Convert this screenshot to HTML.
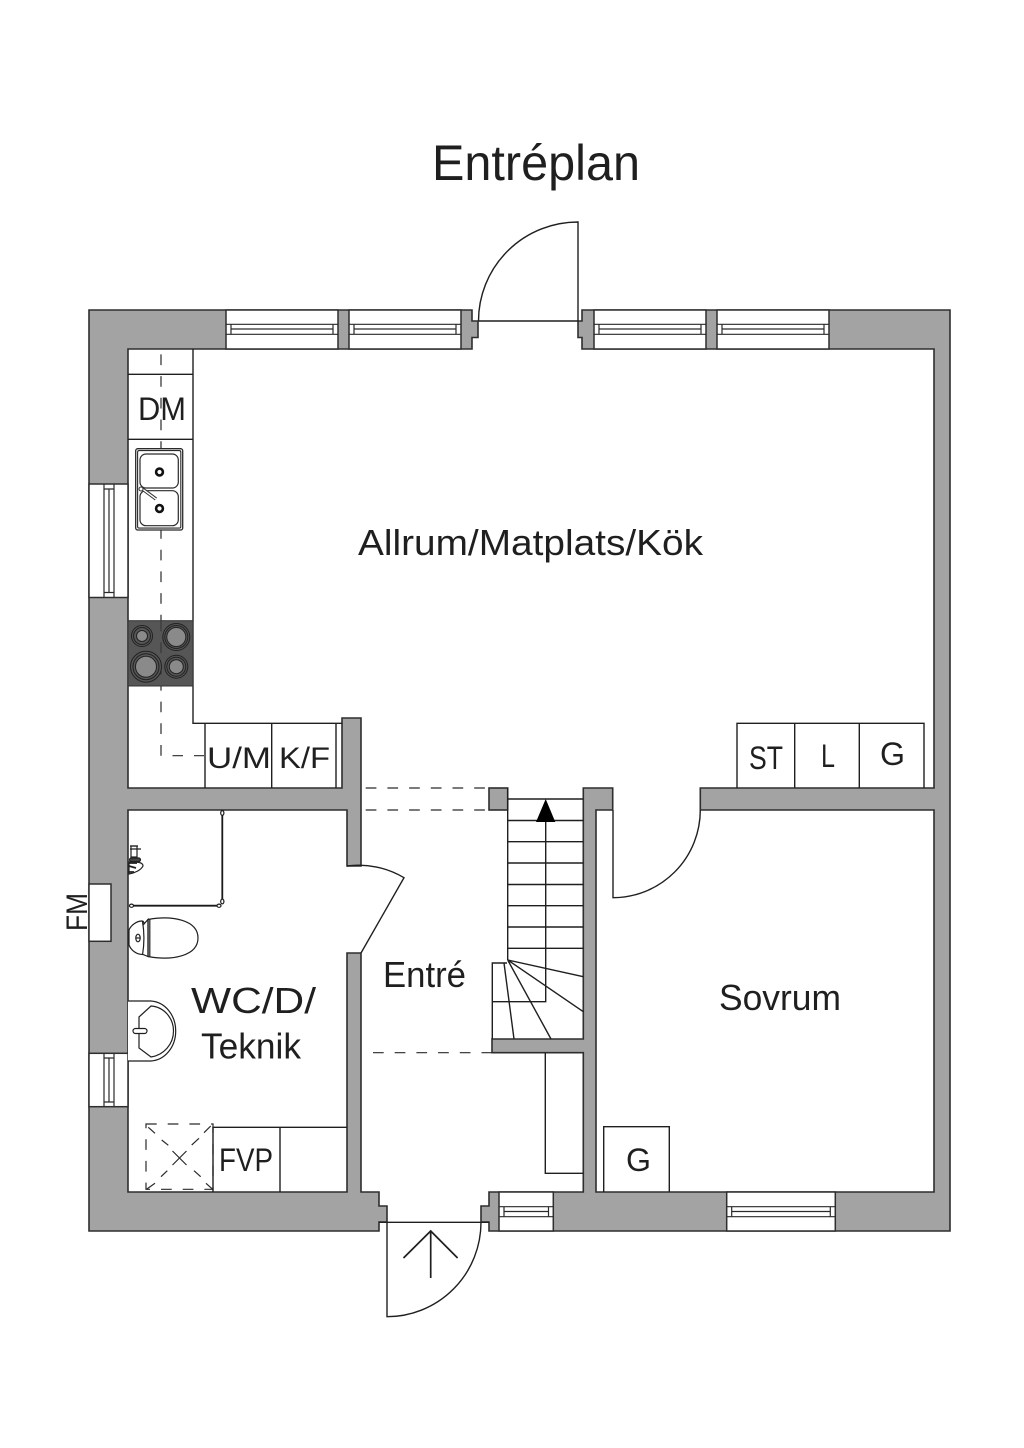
<!DOCTYPE html>
<html>
<head>
<meta charset="utf-8">
<title>Entréplan</title>
<style>
html,body{margin:0;padding:0;background:#fff;}
svg{display:block;}
text{font-family:"Liberation Sans",sans-serif;fill:#1f1f1f;}
.w{fill:#a3a3a3;stroke:#2e2e2e;stroke-width:1.6;}
.win{fill:#fff;stroke:#2e2e2e;stroke-width:1.5;}
.l{fill:none;stroke:#1f1f1f;stroke-width:1.4;}
.th{fill:none;stroke:#2a2a2a;stroke-width:1.2;}
.d{fill:none;stroke:#2a2a2a;stroke-width:1.2;stroke-dasharray:10.7 11;}
</style>
</head>
<body>
<svg width="1024" height="1448" viewBox="0 0 1024 1448" xmlns="http://www.w3.org/2000/svg">
<rect width="1024" height="1448" fill="#fff"/>

<!-- Left wall piece -->
<path class="w" d="M89,310H472V321H478V337.5H472V349H128V788H342V718H361V866H347V810H128V1192H347V953H361V1192H379V1206H387V1222H379V1231H89Z"/>
<!-- Right wall piece -->
<path class="w" d="M582,310H950V1231H489V1222H481V1206H489V1192H583.3V1052.7H492V1039H583.3V788H612.7V810H596V1192H934V810H700.3V788H934V349H582V337.5H578V321H582Z"/>
<!-- stub -->
<rect class="w" x="489" y="788" width="18.7" height="22"/>

<!-- Top windows -->
<g>
<rect class="win" x="226" y="310" width="112" height="39"/>
<rect class="win" x="349" y="310" width="112" height="39"/>
<rect class="win" x="594" y="310" width="112" height="39"/>
<rect class="win" x="717" y="310" width="112" height="39"/>
<path class="th" d="M226,324.3H338M226,334.3H338M231,324.3V334.3M333,324.3V334.3M231,329H333"/>
<path class="th" d="M349,324.3H461M349,334.3H461M354,324.3V334.3M456,324.3V334.3M354,329H456"/>
<path class="th" d="M594,324.3H706M594,334.3H706M599,324.3V334.3M701,324.3V334.3M599,329H701"/>
<path class="th" d="M717,324.3H829M717,334.3H829M722,324.3V334.3M824,324.3V334.3M722,329H824"/>
</g>

<!-- Left windows -->
<rect class="win" x="89" y="484" width="39" height="113.5"/>
<path class="th" d="M104,484V597.5M114,484V597.5M104,489H114M104,592.5H114M109,489V592.5"/>
<rect class="win" x="89" y="1053.3" width="39" height="53.4"/>
<path class="th" d="M104,1053.3V1106.7M114,1053.3V1106.7M104,1058H114M104,1102H114M109,1058V1102"/>
<rect class="win" x="89" y="884" width="22" height="57.3"/>

<!-- Bottom windows -->
<rect class="win" x="499" y="1192" width="54.3" height="39"/>
<path class="th" d="M499,1206.7H553.3M499,1216.7H553.3M504,1206.7V1216.7M548.5,1206.7V1216.7M504,1211.5H548.5"/>
<rect class="win" x="726.7" y="1192" width="108.6" height="39"/>
<path class="th" d="M726.7,1206.7H835.3M726.7,1216.7H835.3M731.7,1206.7V1216.7M830.3,1206.7V1216.7M731.7,1211.5H830.3"/>

<!-- Doors -->
<path class="l" d="M478.5,321H578V222A99.5,99 0 0 0 478.5,321"/>
<path class="l" d="M379,1222.3H489M387,1222.3V1316.7A94,94.4 0 0 0 481,1222.3"/>
<path class="l" d="M430.7,1278V1231.5M403.5,1258L430.7,1231L457.6,1258" style="stroke-width:1.7"/>
<path class="l" d="M613,810V897.7A87.5,87.7 0 0 0 700.3,810"/>
<path class="l" d="M347,866A88,88 0 0 1 404,877.7L361,953"/>

<!-- Kitchen counter -->
<path class="l" d="M193,349V723.3H342M128,374.3H193M128,439.3H193M205,723.3V788M271.7,723.3V788M336,723.3V788"/>
<line class="d" x1="161" y1="354.4" x2="161" y2="755.7"/>
<path class="th" d="M204,755.7H194M183,755.7H172.5"/>

<!-- Hob -->
<rect x="128" y="620.7" width="65" height="65.3" fill="#565656" stroke="#333" stroke-width="1"/>
<line x1="161" y1="620.7" x2="161" y2="686" stroke="#333" stroke-dasharray="10.7 11"/>
<g stroke="#222" stroke-width="1" fill="#565656">
<circle cx="142" cy="636" r="10.5"/><circle cx="142" cy="636" r="8.5"/><circle cx="142" cy="636" r="5.5" fill="#8a8a8a"/>
<circle cx="176.3" cy="637" r="13.5"/><circle cx="176.3" cy="637" r="11.5"/><circle cx="176.3" cy="637" r="9.5" fill="#8a8a8a"/>
<circle cx="146" cy="666.7" r="15.5"/><circle cx="146" cy="666.7" r="13"/><circle cx="146" cy="666.7" r="10.5" fill="#8a8a8a"/>
<circle cx="176.3" cy="666.7" r="11.5"/><circle cx="176.3" cy="666.7" r="9.5"/><circle cx="176.3" cy="666.7" r="7" fill="#8a8a8a"/>
</g>

<!-- Kitchen sink -->
<rect x="135.7" y="448.7" width="47" height="81.3" rx="2" fill="#fff" stroke="#2a2a2a" stroke-width="1.3"/>
<rect x="137.6" y="450.6" width="43.2" height="77.5" rx="1.5" fill="none" stroke="#2a2a2a" stroke-width="1.1"/>
<rect x="140" y="454" width="38.3" height="34" rx="6" fill="#fff" stroke="#2a2a2a" stroke-width="1.2"/>
<rect x="140" y="490.7" width="38.3" height="35" rx="6" fill="#fff" stroke="#2a2a2a" stroke-width="1.2"/>
<circle cx="159.5" cy="472" r="3.4" fill="#fff" stroke="#111" stroke-width="2.6"/>
<circle cx="159.5" cy="508.5" r="3.4" fill="#fff" stroke="#111" stroke-width="2.6"/>
<path d="M142.5,489L156,499" stroke="#333" stroke-width="3.4" fill="none"/>
<path d="M142.5,489L156,499" stroke="#fff" stroke-width="1.4" fill="none"/>
<circle cx="141" cy="489" r="2" fill="#fff" stroke="#333"/>

<!-- Right cabinets -->
<path class="l" d="M737,788V723.3H924V788M794.7,723.3V788M859.3,723.3V788"/>
<path class="l" d="M603.7,1192V1126.7H669.3V1192"/>

<!-- Stairs -->
<path class="l" d="M507.7,788V960M507.7,799H583.3M507.7,820.5H583.3M507.7,841.7H583.3M507.7,863H583.3M507.7,884.5H583.3M507.7,905.7H583.3M507.7,927H583.3M507.7,948.3H583.3"/>
<path class="l" d="M545.7,821V1001.7H492.3M492.3,1039V963H507M507.7,960L583.3,976.7M507.7,960L583.3,1011.7M507.7,960L551,1039M504,963L514,1039"/>
<path d="M545.7,799L536,822H555.3Z" fill="#000"/>
<path class="l" d="M545.3,1052.7V1173.3H583.3"/>

<!-- Dashed openings -->
<g class="d">
<line x1="365.7" y1="788" x2="487" y2="788"/>
<line x1="365.7" y1="810" x2="487" y2="810"/>
<line x1="373" y1="1052.7" x2="492" y2="1052.7"/>
</g>

<!-- Shower rail -->
<path d="M222.3,813V901M219,905.7H131.5" fill="none" stroke="#1a1a1a" stroke-width="1.8"/>
<g fill="#fff" stroke="#1a1a1a" stroke-width="1.2">
<ellipse cx="222.3" cy="813" rx="1.6" ry="2.4"/>
<ellipse cx="222.3" cy="901.5" rx="1.6" ry="2.4"/>
<ellipse cx="219" cy="905.7" rx="2" ry="1.6"/>
<ellipse cx="131.5" cy="905.7" rx="2" ry="1.6"/>
</g>

<!-- Wall tap -->
<g fill="none" stroke="#222" stroke-width="1.2">
<rect x="131" y="846" width="6" height="11"/>
<path d="M130,846H138M130,849H141"/>
<rect x="129.5" y="858" width="11" height="3.6" rx="1.8" fill="#444"/>
<path d="M129,862H134C139,862 143,863 143,866C141,870 135,873 129,874Z" fill="#fff"/>
<path d="M129,863H137M129,866L136,868M129,872H134" stroke-width="1.7"/>
</g>

<!-- Toilet -->
<g fill="#fff" stroke="#1f1f1f" stroke-width="1.2">
<path d="M148,919.5C172,915 198,920 198,938C198,956 172,961 148,956.5Z"/>
<path d="M129,930C131,925 137,921 142,921C143.5,921 144,922 144,924L148,919.5V956.5L143,954.5C136,954.5 131,950 129,945Z"/>
<path d="M142.5,921.5C144.5,933 144.5,943 142.5,955" fill="none"/>
<path d="M148,919.5V956.5M149.8,919.5V956.5" fill="none"/>
<ellipse cx="138" cy="938" rx="2.2" ry="3.8"/>
<path d="M136,938H140" fill="none"/>
</g>

<!-- WC sink -->
<path d="M128,1001H151C165,1002 175.7,1015 175.7,1031C175.7,1047 165,1060 151,1061H128" fill="#fff" stroke="#1f1f1f" stroke-width="1.2"/>
<path d="M139,1017L151,1006C164,1007 173.5,1018 173.5,1031C173.5,1044 164,1055 151,1057L139,1048Z" fill="#fff" stroke="#1f1f1f" stroke-width="1.2"/>
<rect x="133" y="1028.5" width="14" height="5" rx="2.5" fill="#fff" stroke="#1f1f1f" stroke-width="1.2"/>

<!-- Shower floor -->
<rect class="d" x="146" y="1124" width="67" height="65.3"/>
<path class="th" d="M148.3,1127.3L155,1133.3M161.7,1140L168.3,1145.3M210.7,1126L204,1132.7M199,1138.3L191.7,1145M167.3,1170.7L161,1176.7M155,1183.3L146.5,1189.3M194,1170.7L200.7,1176.7M206,1183.3L212.7,1189.3"/>
<path class="th" d="M172.5,1151L186.5,1165M186.5,1151L172.5,1165"/>

<!-- FVP cabinet -->
<path class="l" d="M213,1192V1127.3H347M280,1127.3V1192"/>

<!-- Labels -->
<text x="432" y="180" font-size="50" textLength="208" lengthAdjust="spacingAndGlyphs">Entréplan</text>
<text x="358" y="555" font-size="36" textLength="345" lengthAdjust="spacingAndGlyphs">Allrum/Matplats/Kök</text>
<text x="191" y="1013" font-size="36" textLength="125" lengthAdjust="spacingAndGlyphs">WC/D/</text>
<text x="201" y="1058.7" font-size="36" textLength="100" lengthAdjust="spacingAndGlyphs">Teknik</text>
<text x="383" y="987" font-size="36" textLength="83" lengthAdjust="spacingAndGlyphs">Entré</text>
<text x="719" y="1010" font-size="36" textLength="122" lengthAdjust="spacingAndGlyphs">Sovrum</text>
<text x="138" y="420" font-size="32" textLength="48" lengthAdjust="spacingAndGlyphs">DM</text>
<text x="207" y="768" font-size="30" textLength="64" lengthAdjust="spacingAndGlyphs">U/M</text>
<text x="279" y="768" font-size="30" textLength="51" lengthAdjust="spacingAndGlyphs">K/F</text>
<text x="749" y="769" font-size="32" textLength="34" lengthAdjust="spacingAndGlyphs">ST</text>
<text x="821" y="767" font-size="32" textLength="14" lengthAdjust="spacingAndGlyphs">L</text>
<text x="880" y="765" font-size="32" textLength="25" lengthAdjust="spacingAndGlyphs">G</text>
<text x="626" y="1171" font-size="32" textLength="25" lengthAdjust="spacingAndGlyphs">G</text>
<text x="219" y="1171" font-size="32" textLength="54" lengthAdjust="spacingAndGlyphs">FVP</text>
<text transform="translate(87,931) rotate(-90)" font-size="30" textLength="38" lengthAdjust="spacingAndGlyphs">FM</text>
</svg>
</body>
</html>
